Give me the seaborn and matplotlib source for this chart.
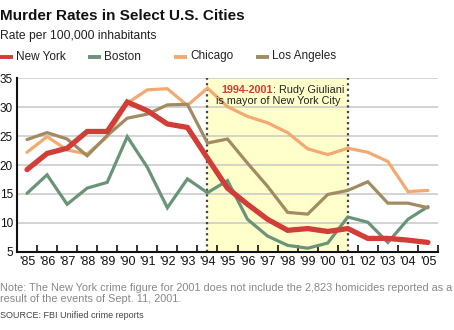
import matplotlib
matplotlib.use("Agg")
import matplotlib.pyplot as plt
from matplotlib.lines import Line2D
import seaborn as sns
import pandas as pd

years = list(range(1985, 2006))
tick_labels = ["'85", "'86", "'87", "'88", "'89", "'90", "'91", "'92", "'93", "'94", "'95",
               "'96", "'97", "'98", "'99", "'00", "'01", "'02", "'03", "'04", "'05"]
new_york = [19.2, 22.0, 22.9, 25.8, 25.8, 30.9, 29.4, 27.1, 26.5, 21.2, 16.0,
            13.2, 10.6, 8.7, 9.0, 8.5, 9.0, 7.3, 7.3, 7.0, 6.6]
boston = [15.1, 18.3, 13.2, 16.0, 17.0, 24.9, 19.6, 12.6, 17.6, 15.2, 17.3,
          10.6, 7.7, 6.1, 5.6, 6.5, 11.0, 10.1, 6.6, 10.6, 12.8]
chicago = [22.2, 24.9, 22.6, 21.9, 24.9, 30.7, 33.0, 33.2, 30.3, 33.3, 30.1,
           28.4, 27.3, 25.6, 22.8, 21.8, 22.9, 22.2, 20.6, 15.4, 15.6]
los_angeles = [24.4, 25.6, 24.5, 21.6, 25.1, 28.1, 28.8, 30.4, 30.5, 23.8, 24.5,
               20.3, 16.3, 11.8, 11.5, 14.9, 15.6, 17.1, 13.4, 13.4, 12.6]
cities = ["New York", "Boston", "Chicago", "Los Angeles"]
colors = ["#d13d37", "#6a9478", "#f2a972", "#a08b62"]
mayor_start, mayor_end = 1994, 2001

sns.set_theme(style="white")
plt.rcParams["font.family"] = ["Liberation Sans", "DejaVu Sans"]
narrow = ["Liberation Sans Narrow", "Liberation Sans", "DejaVu Sans"]

fig = plt.figure(figsize=(4.54, 3.30), dpi=100)
ax = fig.add_axes([17 / 454, 1 - 251.7 / 330, (438 - 17) / 454, (251.7 - 78.3) / 330])

ax.axvspan(mayor_start, mayor_end, color="#ffffcc", zorder=0, lw=0)
for xv in (mayor_start, mayor_end):
    ax.axvline(xv, color="#444444", ls=(0, (1, 1.5)), lw=1.6, zorder=1)

df = pd.DataFrame({"year": years, "New York": new_york, "Boston": boston,
                   "Chicago": chicago, "Los Angeles": los_angeles})
widths = {"New York": 3.8, "Boston": 2.3, "Chicago": 2.3, "Los Angeles": 2.3}
zs = {"New York": 6, "Boston": 3, "Chicago": 4, "Los Angeles": 5}
for city, col in zip(cities, colors):
    sns.lineplot(data=df, x="year", y=city, ax=ax, color=col, lw=widths[city],
                 zorder=zs[city], solid_joinstyle="miter")

ax.set_xlim(1984.5, 2005.5)
ax.set_ylim(5, 35)
ax.set_yticks([5, 10, 15, 20, 25, 30, 35])
ax.set_yticklabels(["5", "10", "15", "20", "25", "30", "35"])
ax.set_xticks(years)
ax.set_xticklabels(tick_labels)
ax.set_xticks([y + 0.5 for y in years[:-1]] + [2005.5], minor=True)
ax.tick_params(axis="x", which="major", length=0, pad=3, labelsize=9, colors="#111111")
ax.tick_params(axis="x", which="minor", direction="in", length=5, width=1.2, color="#111111", bottom=True)
ax.tick_params(axis="y", length=0, pad=3, labelsize=8.5, colors="#111111")
for lab in ax.get_xticklabels() + ax.get_yticklabels():
    lab.set_family(narrow)
ax.set_xlabel("")
ax.set_ylabel("")
ax.yaxis.grid(True, color="#c8c8c8", lw=1.1, zorder=0.5)
ax.xaxis.grid(False)
for s in ("top", "right"):
    ax.spines[s].set_visible(False)
for s in ("left", "bottom"):
    ax.spines[s].set_color("#111111")
    ax.spines[s].set_linewidth(1.5)
ax.set_facecolor("none")

# annotation
split_x = 1985 + (272 - 27) / 20
ax.text(split_x, 32.9, "1994-2001", ha="right", va="center", color="#d13d37",
        fontsize=7.8, fontweight="bold", family=narrow, zorder=7)
ax.text(split_x, 32.9, ": Rudy Giuliani", ha="left", va="center", color="#222222",
        fontsize=7.8, family=narrow, zorder=7)
ax.text(1985 + (278 - 27) / 20, 31.0, "is mayor of New York City", ha="center", va="center",
        color="#222222", fontsize=7.8, family=narrow, zorder=7)

# titles
fig.text(0.0, 1 - 16.5 / 330, "Murder Rates in Select U.S. Cities", ha="left", va="center",
         fontsize=11, fontweight="bold", family=narrow, color="#111111")
fig.text(0.0, 1 - 36 / 330, "Rate per 100,000 inhabitants", ha="left", va="center",
         fontsize=8.7, color="#222222")

# legend
leg_x = [0, 88, 174, 256]
leg_y = 1 - 56.5 / 330
for name, col, lx in zip(cities, colors, leg_x):
    fig.add_artist(Line2D([lx / 454, (lx + 13) / 454], [leg_y, leg_y], color=col, lw=2.8,
                          transform=fig.transFigure, solid_capstyle="butt"))
    fig.text((lx + 16) / 454, leg_y, name, ha="left", va="center", fontsize=8.5, color="#222222")

# notes
fig.text(0.0, 1 - 288 / 330,
         "Note: The New York crime figure for 2001 does not include the 2,823 homicides reported as a",
         ha="left", va="center", fontsize=7.8, color="#888888")
fig.text(0.0, 1 - 298.5 / 330, "result of the events of Sept. 11, 2001.",
         ha="left", va="center", fontsize=7.8, color="#888888")
fig.text(0.0, 1 - 315.5 / 330, "SOURCE: FBI Unified crime reports", ha="left", va="center",
         fontsize=6.5, color="#444444", family=narrow)

fig.savefig("out.png", dpi=100, facecolor="white")
